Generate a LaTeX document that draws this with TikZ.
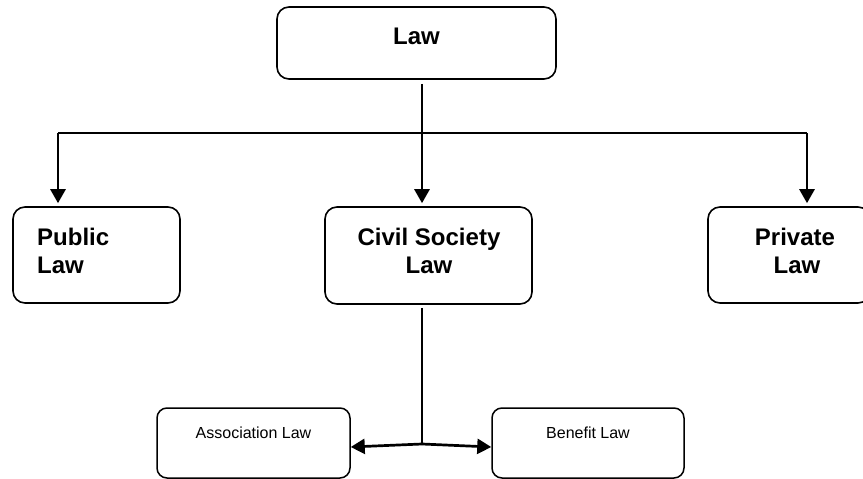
\documentclass[tikz,border=0pt]{standalone}
\usepackage{fontspec}
\setmainfont{Liberation Sans}
\usetikzlibrary{arrows.meta,calc}
\begin{document}
\begin{tikzpicture}[x=1pt,y=-1pt,
  bigbox/.style={draw,line width=1.6pt,rounded corners=12pt,inner sep=0pt},
  smallbox/.style={draw,line width=1.5pt,rounded corners=10pt,inner sep=0pt},
  bigtxt/.style={font=\bfseries\fontsize{24}{28}\selectfont,inner sep=0pt,anchor=base},
  smalltxt/.style={font=\fontsize{16}{19}\selectfont,inner sep=0pt,anchor=base},
  conn/.style={line width=2.7pt},
  arr/.style={conn,-{Triangle[length=14pt,width=15pt]}}]
\useasboundingbox (0,0) rectangle (863,479);
% boxes
\node[bigbox,minimum width=279pt,minimum height=72pt] (law) at (416.5,43) {};
\node[bigbox,minimum width=167pt,minimum height=96pt] (pub) at (96.5,255) {};
\node[bigbox,minimum width=207pt,minimum height=97pt] (civ) at (428.5,255.5) {};
\node[bigbox,minimum width=162pt,minimum height=96pt] (pri) at (789,255) {};
\node[smallbox,minimum width=193pt,minimum height=70pt] (aso) at (253.5,443) {};
\node[smallbox,minimum width=192pt,minimum height=70pt] (ben) at (588,443) {};
% texts
\node[bigtxt] (tlaw) at (416.5,44) {Law};
\node[bigtxt,anchor=base west] (tpub1) at (37,245) {Public};
\node[bigtxt,anchor=base west] (tpub2) at (37,273) {Law};
\node[bigtxt] (tciv1) at (429,245) {Civil Society};
\node[bigtxt] (tciv2) at (429,273) {Law};
\node[bigtxt] (tpri1) at (795,245) {Private};
\node[bigtxt] (tpri2) at (797,273) {Law};
\node[smalltxt] (taso) at (253.5,438) {Association Law};
\node[smalltxt] (tben) at (588,438) {Benefit Law};
% connectors
\coordinate (j) at (422,133);
\coordinate (hl) at (58,133);
\coordinate (hr) at (807,133);
\coordinate (k) at (422,444);
\draw[conn,shorten <=4pt] (j |- law.south) -- (j);
\draw[conn] (hl) -- (hr);
\draw[arr,shorten >=3pt] (hl) -- (hl |- pub.north);
\draw[arr,shorten >=3pt] (j) -- (j |- civ.north);
\draw[arr,shorten >=3pt] (hr) -- (hr |- pri.north);
\draw[conn,shorten <=3pt] (k |- civ.south) -- (k);
\draw[arr] (k) -- ([yshift=-4pt]aso.east);
\draw[arr] (k) -- ([yshift=-4pt]ben.west);
\end{tikzpicture}
\end{document}
